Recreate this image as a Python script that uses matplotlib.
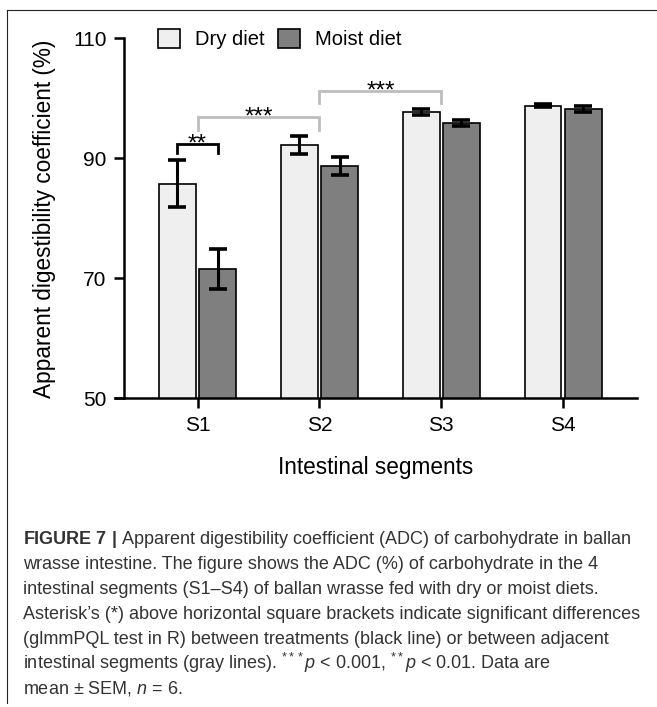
import matplotlib
matplotlib.use("Agg")
import matplotlib.pyplot as plt
import numpy as np
from matplotlib.patches import Patch
from matplotlib.lines import Line2D

# data
segments = ["S1", "S2", "S3", "S4"]
dry_mean = [85.8, 92.3, 97.7, 98.8]
dry_sem = [3.95, 1.5, 0.5, 0.2]
moist_mean = [71.6, 88.7, 95.9, 98.2]
moist_sem = [3.3, 1.5, 0.55, 0.55]
yticks = [50, 70, 90, 110]

# significance brackets: (x_left, x_right, top, leg_bottom, label, colour)
brackets = [
    (1 - 0.165, 1 + 0.165, 92.4, 90.9, "**", "black"),
    (1, 2, 96.9, 94.8, "***", "#bdbdbd"),
    (2, 3, 101.2, 99.2, "***", "#bdbdbd"),
]

caption = [
    r"$\mathbf{FIGURE\ 7\ |}$ Apparent digestibility coefficient (ADC) of carbohydrate in ballan",
    "wrasse intestine. The figure shows the ADC (%) of carbohydrate in the 4",
    "intestinal segments (S1\u2013S4) of ballan wrasse fed with dry or moist diets.",
    "Asterisk\u2019s (*) above horizontal square brackets indicate significant differences",
    "(glmmPQL test in R) between treatments (black line) or between adjacent",
    r"intestinal segments (gray lines). $^{***}\mathit{p}$ < 0.001, $^{**}\mathit{p}$ < 0.01. Data are",
    r"mean $\pm$ SEM, $\mathit{n}$ = 6.",
]

plt.rcParams["font.family"] = ["Liberation Sans", "DejaVu Sans"]
plt.rcParams["mathtext.fontset"] = "custom"
plt.rcParams["mathtext.rm"] = "Liberation Sans"
plt.rcParams["mathtext.it"] = "Liberation Sans:italic"
plt.rcParams["mathtext.bf"] = "Liberation Sans:bold"

dry_col = "#efefef"
moist_col = "#7f7f7f"

fig = plt.figure(figsize=(6.57, 7.07), dpi=100)
ax = fig.add_axes([0.175, 0.4366, 0.7945, 0.5092])

x = np.arange(1, len(segments) + 1)
off = 0.165
w = 0.3
ax.bar(x - off, dry_mean, w, bottom=0, color=dry_col, edgecolor="black", linewidth=1.2, zorder=2)
ax.bar(x + off, moist_mean, w, bottom=0, color=moist_col, edgecolor="black", linewidth=1.2, zorder=2)
ax.errorbar(x - off, dry_mean, yerr=dry_sem, fmt="none", ecolor="black",
            elinewidth=2.2, capsize=6.5, capthick=2.6, zorder=3)
ax.errorbar(x + off, moist_mean, yerr=moist_sem, fmt="none", ecolor="black",
            elinewidth=2.2, capsize=6.5, capthick=2.6, zorder=3)

for x0, x1, top, bot, lab, col in brackets:
    ax.plot([x0, x0, x1, x1], [bot, top, top, bot], color=col, lw=2.0,
            solid_joinstyle="miter", clip_on=False, zorder=4)
    ax.text((x0 + x1) / 2, top - 1.1, lab, ha="center", va="baseline",
            fontsize=17.5, color="black")

ax.set_xlim(0.322, 4.605)
ax.set_ylim(50, 110)
ax.set_xticks(x)
ax.set_xticklabels(segments)
ax.set_yticks(yticks)

for s in ["top", "right"]:
    ax.spines[s].set_visible(False)
ax.spines["left"].set_position(("data", 0.395))
ax.spines["left"].set_bounds(50, 110)
for s in ["left", "bottom"]:
    ax.spines[s].set_linewidth(1.8)
ax.tick_params(axis="both", width=1.8, length=7, labelsize=15, colors="black")
ax.tick_params(axis="y", pad=5.5)
ax.tick_params(axis="x", pad=6)

ax.set_xlabel("Intestinal segments", fontsize=16.3, labelpad=15)
ax.set_ylabel("Apparent digestibility coefficient (%)", fontsize=16.3, labelpad=12)

handles = [Patch(facecolor=dry_col, edgecolor="black", linewidth=1.2, label="Dry diet"),
           Patch(facecolor=moist_col, edgecolor="black", linewidth=1.2, label="Moist diet")]
fig.legend(handles=handles, loc="center left", bbox_to_anchor=(0.2405, 0.9448),
           ncol=2, frameon=False, fontsize=14.5, handlelength=1.1, handleheight=1.1,
           handletextpad=0.75, columnspacing=0.65, borderpad=0, borderaxespad=0)

# caption
base = [544, 569, 594, 619, 644, 669, 694]
for line, b in zip(caption, base):
    fig.text(23 / 657, 1 - b / 707, line, ha="left", va="baseline",
             fontsize=13, color="#333333")

# frame lines (left and top)
fig.add_artist(Line2D([7 / 657, 7 / 657], [1 - 10 / 707, 1 - 703 / 707],
                      transform=fig.transFigure, color="#222222", lw=0.8))
fig.add_artist(Line2D([7 / 657, 1.0], [1 - 10 / 707, 1 - 10 / 707],
                      transform=fig.transFigure, color="#222222", lw=0.8))

fig.savefig("out.png", dpi=100)
